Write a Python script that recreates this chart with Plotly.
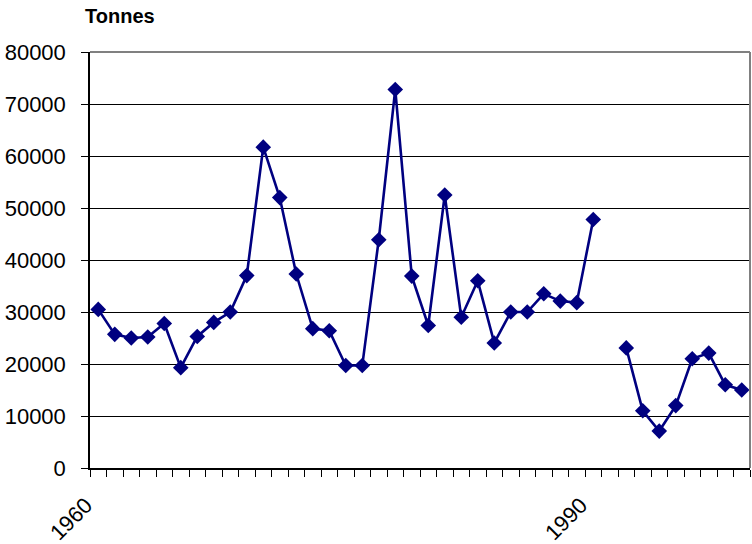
import plotly.graph_objects as go

# Annual catch, tonnes (1991 not recorded)
years = list(range(1960, 2000))
tonnes = [
    30500, 25700, 25000, 25200, 27800, 19300, 25300, 28000, 30000, 37000,
    61700, 52000, 37300, 26800, 26400, 19700, 19700, 43900, 72800, 36900,
    27400, 52500, 29000, 36000, 24050, 30000, 30000, 33500, 32100, 31800,
    47800, None, 23100, 11000, 7100, 12000, 21000, 22100, 16000, 15000,
]
label_years = [1960, 1990]
label_text = ["1960", "1990"]

FONT = "Liberation Sans, Arial, sans-serif"
NAVY = "#000080"

fig = go.Figure()
fig.add_trace(go.Scatter(
    x=years, y=tonnes,
    mode="lines+markers",
    connectgaps=False,
    line=dict(color=NAVY, width=2.6),
    marker=dict(symbol="diamond", size=12, color=NAVY),
    showlegend=False,
    hoverinfo="x+y",
))

# category boundaries sit half a year either side of each point
fig.update_xaxes(
    range=[years[0] - 0.5, years[-1] + 0.5],
    tickmode="array",
    tickvals=[y - 0.5 for y in label_years],
    ticktext=label_text,
    tickangle=-45,
    ticks="outside", ticklen=7, tickcolor="black", tickwidth=1,
    minor=dict(ticks="outside", ticklen=7, tickcolor="black", tickwidth=1,
               tick0=years[0] - 0.5, dtick=1, showgrid=False),
    showgrid=False, zeroline=False,
    showline=True, linecolor="black", linewidth=1.5,
    tickfont=dict(family=FONT, size=22, color="black"),
    ticklabelstandoff=7,
    ticklabelshift=-4,
    automargin=False,
)
fig.update_yaxes(
    range=[0, 80000], dtick=10000, tickformat="d",
    ticks="outside", ticklen=7, tickcolor="black", tickwidth=1,
    showgrid=True, gridcolor="black", gridwidth=1,
    zeroline=False,
    showline=True, linecolor="black", linewidth=1.5,
    tickfont=dict(family=FONT, size=22, color="black"),
    ticklabelstandoff=11,
    automargin=False,
)

# grey plot-area frame on the top and right sides
fig.add_shape(type="line", xref="paper", yref="paper", x0=0, x1=1, y0=1, y1=1,
              line=dict(color="#808080", width=2))
fig.add_shape(type="line", xref="paper", yref="paper", x0=1, x1=1, y0=0, y1=1,
              line=dict(color="#808080", width=2))

fig.add_annotation(
    text="<b>Tonnes</b>", xref="paper", yref="paper",
    x=-0.011, y=1.0, xanchor="left", yanchor="bottom", yshift=23,
    showarrow=False, font=dict(family=FONT, size=20, color="black"),
)

fig.update_layout(
    width=752, height=544,
    margin=dict(l=90, r=2, t=52, b=76),
    paper_bgcolor="white", plot_bgcolor="white",
)

fig.write_html("out.html")
